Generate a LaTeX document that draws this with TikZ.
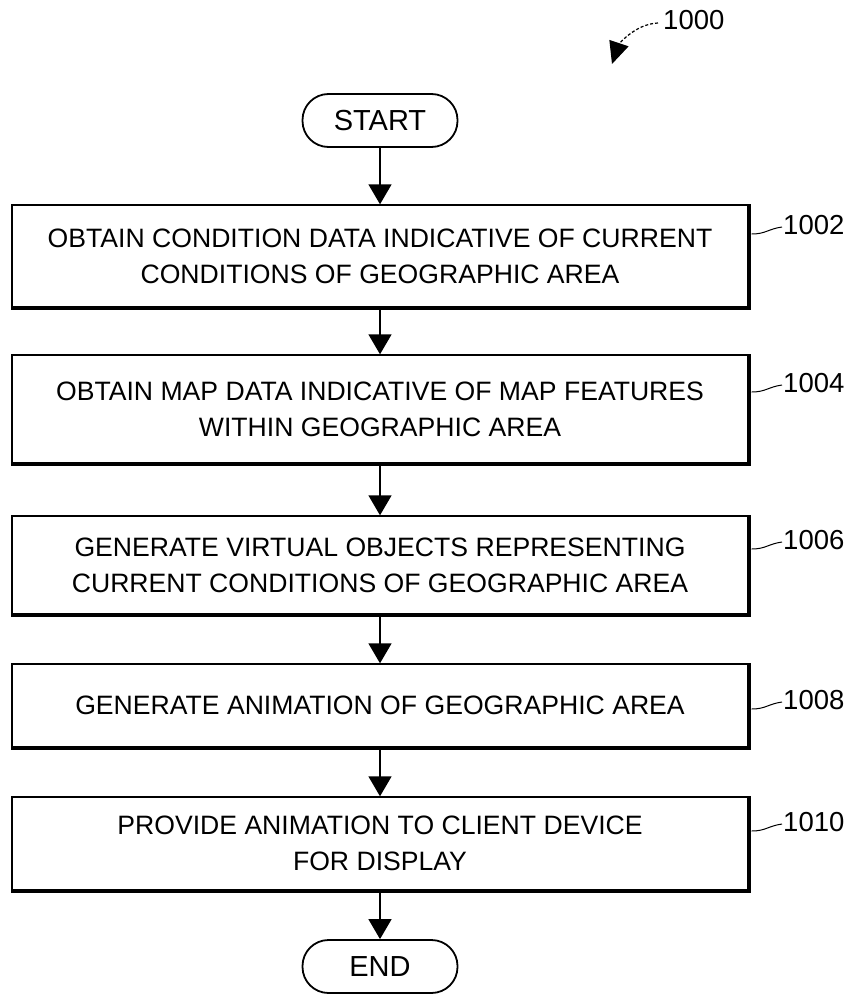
\documentclass[tikz,border=0pt]{standalone}
\usepackage{fontspec}
\setmainfont{Liberation Sans}
\usetikzlibrary{arrows.meta,calc}
\begin{document}
\begin{tikzpicture}[x=1pt,y=-1pt,
 proc/.style={draw,line width=1.4pt,minimum width=736pt,align=center,inner sep=0pt,font=\fontsize{26.6}{36}\selectfont},
 term/.style={draw,line width=1.8pt,rounded corners=26pt,minimum width=155pt,minimum height=53pt,inner sep=0pt,font=\fontsize{29}{32}\selectfont},
 arr/.style={line width=1.5pt,-{Triangle[width=23pt,length=20pt]}},
 shade/.style={line width=3.5pt},
 lab/.style={anchor=west,inner sep=1pt,font=\fontsize{27.5}{30}\selectfont},
 lead/.style={line width=1pt}]
\useasboundingbox (0,0) rectangle (857,995);
\node[term] (start) at (380,120.5) {START};
\node[proc,minimum height=102pt] (b1) at (380,256) {OBTAIN CONDITION DATA INDICATIVE OF CURRENT\\CONDITIONS OF GEOGRAPHIC AREA};
\node[proc,minimum height=108pt] (b2) at (380,409) {OBTAIN MAP DATA INDICATIVE OF MAP FEATURES\\WITHIN GEOGRAPHIC AREA};
\node[proc,minimum height=98pt] (b3) at (380,565) {GENERATE VIRTUAL OBJECTS REPRESENTING\\CURRENT CONDITIONS OF GEOGRAPHIC AREA};
\node[proc,minimum height=83pt] (b4) at (380,705.5) {GENERATE ANIMATION OF GEOGRAPHIC AREA};
\node[proc,minimum height=93pt] (b5) at (380,843.5) {PROVIDE ANIMATION TO CLIENT DEVICE\\FOR DISPLAY};
\node[term] (end) at (380,966.5) {END};
\foreach \b in {b1,b2,b3,b4,b5}{
  \draw[shade] ([xshift=1pt]\b.north east) -- ([xshift=1pt,yshift=-1pt]\b.south east) -- ([yshift=-1pt]\b.south west);
}
\draw[arr] (start.south) -- (b1.north -| start.south);
\draw[arr] (b1.south -| start.south) -- (b2.north -| start.south);
\draw[arr] (b2.south -| start.south) -- (b3.north -| start.south);
\draw[arr] (b3.south -| start.south) -- (b4.north -| start.south);
\draw[arr] (b4.south -| start.south) -- (b5.north -| start.south);
\draw[arr] (b5.south -| start.south) -- (end.north);
% reference labels
\node[lab] (n1000) at (662,20) {1000};
\coordinate (tip1000) at (612,64);
\draw[line width=1.2pt,dash pattern=on 3pt off 2pt,-{Triangle[width=20pt,length=22pt]}] ($(n1000.west)+(-4,3)$) .. controls +(-24,1) and +(6,-18) .. (tip1000);
\node[lab] (n1002) at (782,225) {1002};
\node[lab] (n1004) at (782,383) {1004};
\node[lab] (n1006) at (782,540) {1006};
\node[lab] (n1008) at (782,700) {1008};
\node[lab] (n1010) at (782,822) {1010};
\foreach \b/\n in {b1/n1002,b2/n1004,b3/n1006,b4/n1008,b5/n1010}{
  \draw[lead] ($(\b.east |- \n.west)+(3,9)$) .. controls +(14,0) and +(-14,2) .. ($(\n.west)+(0,2)$);
}
\end{tikzpicture}
\end{document}
